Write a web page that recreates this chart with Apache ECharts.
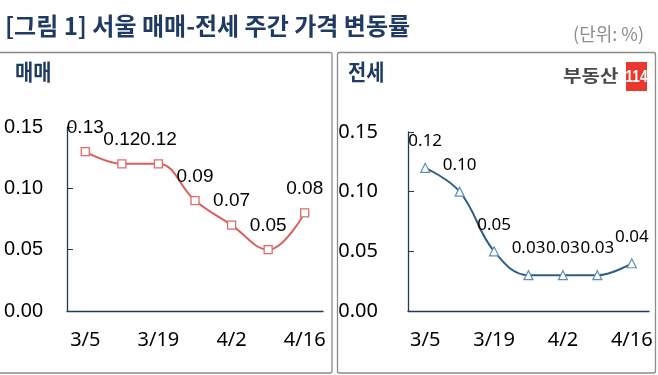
<!DOCTYPE html>
<html><head><meta charset="utf-8">
<script src="https://cdn.jsdelivr.net/npm/echarts@6/dist/echarts.min.js"></script>
<style>html,body{margin:0;padding:0;background:#fff}#c{width:658px;height:375px}</style>
</head><body><div id="c"></div>
<script>
const categories = ['3/5', '3/12', '3/19', '3/26', '4/2', '4/9', '4/16'];
const saleValues = [0.13, 0.12, 0.12, 0.09, 0.07, 0.05, 0.08];
const jeonseValues = [0.12, 0.10, 0.05, 0.03, 0.03, 0.03, 0.04];
const yMin = 0, yMax = 0.15, yStep = 0.05;
const titleText = '[그림 1] 서울 매매-전세 주간 가격 변동률';
const unitText = '(단위: %)';
const panelTitles = ['매매', '전세'];

const navy = '#1f3a63';
const axisColor = '#1f3b5c';

function yAxisCfg(grid, margin, font) {
  return {
    type: 'value', gridIndex: grid, min: yMin, max: yMax, interval: yStep,
    splitLine: { show: false },
    axisLine: { show: true, lineStyle: { color: axisColor, width: 1.3 } },
    axisTick: { show: true, inside: true, length: 6, lineStyle: { color: axisColor } },
    axisLabel: { margin: margin, color: '#000', fontSize: 20, fontFamily: font,
      formatter: v => v.toFixed(2) }
  };
}
function xAxisCfg(grid) {
  return {
    type: 'category', gridIndex: grid, data: categories, boundaryGap: true,
    axisLine: { lineStyle: { color: axisColor, width: 1.3 } },
    axisTick: { show: false },
    axisLabel: { interval: 1, margin: 19, color: '#000', fontSize: 20, fontFamily: 'Noto Sans' }
  };
}

const chart = echarts.init(document.getElementById('c'), null, { renderer: 'canvas' });
chart.setOption({
  animation: false,
  backgroundColor: '#fff',
  graphic: [
    { type: 'rect', shape: { x: -5, y: 52.5, width: 337, height: 320.5, r: 2 }, style: { fill: 'none', stroke: '#8a8a8a', lineWidth: 1.3 }, z: -1 },
    { type: 'rect', shape: { x: 337.5, y: 52.5, width: 318, height: 320.5, r: 2 }, style: { fill: 'none', stroke: '#8a8a8a', lineWidth: 1.3 }, z: -1 },
    { type: 'text', left: 5, top: 14, style: { text: titleText, fill: navy, font: 'bold 24px "Noto Sans CJK KR"' } },
    { type: 'text', right: 14, top: 25, style: { text: unitText, fill: '#8c8c8c', font: '18px "Noto Sans CJK KR"' } },
    { type: 'text', x: 15, y: 72, scaleX: 0.9, style: { text: panelTitles[0], fill: navy, font: 'bold 22px "Noto Sans CJK KR"', verticalAlign: 'middle' } },
    { type: 'text', x: 348, y: 72, scaleX: 0.9, style: { text: panelTitles[1], fill: navy, font: 'bold 22px "Noto Sans CJK KR"', verticalAlign: 'middle' } },
    { type: 'text', x: 563, y: 76, scaleX: 1.18, style: { text: '부동산', fill: '#4a4a4a', font: 'bold 17px "Noto Sans CJK KR"', verticalAlign: 'middle' } },
    { type: 'rect', shape: { x: 626, y: 62, width: 21, height: 29 }, style: { fill: '#e8392c' } },
    { type: 'text', x: 636.5, y: 77, scaleX: 0.8, style: { text: '114', fill: '#fff', font: 'bold 17px "Liberation Sans Narrow", "Liberation Sans"', align: 'center', verticalAlign: 'middle' } }
  ],
  grid: [
    { left: 67, right: 335, top: 127, bottom: 64 },
    { left: 408, right: 9, top: 132, bottom: 64 }
  ],
  xAxis: [xAxisCfg(0), xAxisCfg(1)],
  yAxis: [yAxisCfg(0, 24, 'Liberation Sans'), yAxisCfg(1, 30, 'Noto Sans')],
  series: [
    {
      type: 'line', xAxisIndex: 0, yAxisIndex: 0, data: saleValues, smooth: 0.4,
      symbol: 'rect', symbolSize: 8,
      lineStyle: { color: '#e05c5c', width: 2 },
      itemStyle: { color: '#fff', borderColor: '#e06a6a', borderWidth: 1.3 },
      label: { show: true, position: 'top', distance: 10, color: '#000', fontSize: 19,
        fontFamily: 'Liberation Sans', formatter: p => p.value.toFixed(2) }
    },
    {
      type: 'line', xAxisIndex: 1, yAxisIndex: 1, data: jeonseValues, smooth: 0.4,
      symbol: 'triangle', symbolSize: 9,
      lineStyle: { color: '#2f5f86', width: 2 },
      itemStyle: { color: '#fff', borderColor: '#5f8fb5', borderWidth: 1.2 },
      label: { show: true, position: 'top', distance: 13, color: '#000', fontSize: 17,
        fontFamily: 'Noto Sans', formatter: p => p.value.toFixed(2) }
    }
  ]
});
</script></body></html>
